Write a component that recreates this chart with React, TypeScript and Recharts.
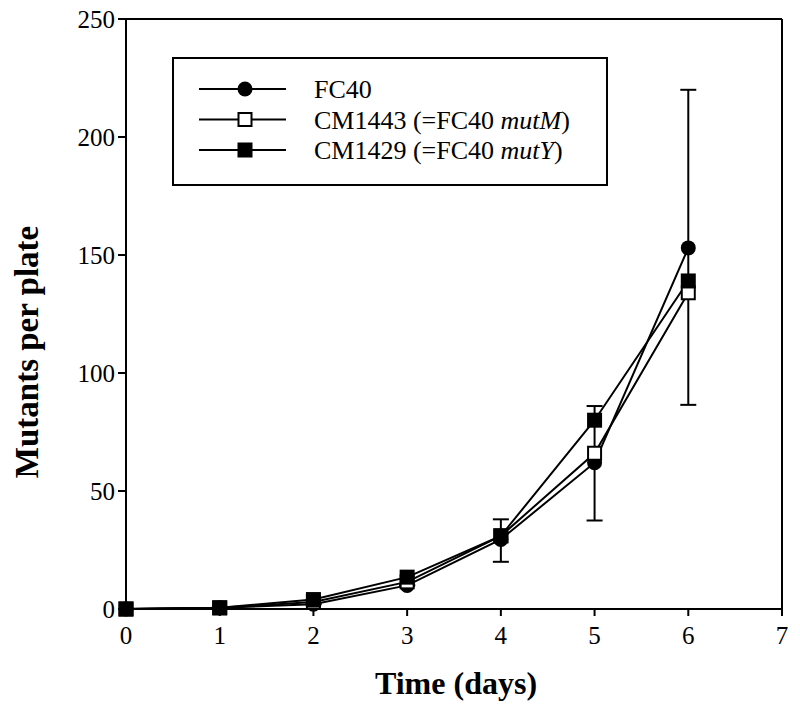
import React from 'react';
import { LineChart, Line, XAxis, YAxis, ErrorBar, ReferenceLine } from 'recharts';

const days = [0, 1, 2, 3, 4, 5, 6];
const fc40 = [0, 0.5, 2, 10, 29.5, 62, 153];
const cm1443 = [0, 0.5, 3, 11.5, 31, 66, 134];
const cm1429 = [0, 0.5, 4, 13.5, 31, 80, 139];
const fc40ErrLow = [0, 0, 0, 0, 9.5, 24.5, 66.5];
const fc40ErrHigh = [0, 0, 0, 0, 8.5, 24, 67];
const xTicks = [0, 1, 2, 3, 4, 5, 6, 7];
const yTicks = [0, 50, 100, 150, 200, 250];
const legendLabels = [
  { main: 'FC40', ital: '', tail: '' },
  { main: 'CM1443 (=FC40 ', ital: 'mutM', tail: ')' },
  { main: 'CM1429 (=FC40 ', ital: 'mutY', tail: ')' },
];

const data = days.map((d, i) => ({
  day: d,
  fc40: fc40[i],
  cm1443: cm1443[i],
  cm1429: cm1429[i],
  fc40Err: [fc40ErrLow[i], fc40ErrHigh[i]],
}));

const FONT = '"Liberation Serif", "Times New Roman", serif';

const Circle = (props: any) => {
  const { cx, cy, index } = props;
  if (cx == null || cy == null) return <g key={`c${index}`} />;
  return <circle key={`c${index}`} cx={cx} cy={cy} r={7.5} fill="#000" />;
};
const OpenSquare = (props: any) => {
  const { cx, cy, index } = props;
  if (cx == null || cy == null) return <g key={`o${index}`} />;
  return <rect key={`o${index}`} x={cx - 6.5} y={cy - 6.5} width={13} height={13} fill="#fff" stroke="#000" strokeWidth={2} />;
};
const FilledSquare = (props: any) => {
  const { cx, cy, index } = props;
  if (cx == null || cy == null) return <g key={`f${index}`} />;
  return <rect key={`f${index}`} x={cx - 7.5} y={cy - 7.5} width={15} height={15} fill="#000" />;
};

const markerFor = (i: number, cx: number, cy: number) => {
  if (i === 0) return <circle cx={cx} cy={cy} r={7.5} fill="#000" />;
  if (i === 1) return <rect x={cx - 6.5} y={cy - 6.5} width={13} height={13} fill="#fff" stroke="#000" strokeWidth={2} />;
  return <rect x={cx - 7.5} y={cy - 7.5} width={15} height={15} fill="#000" />;
};

const LegendBox = () => (
  <svg width={436} height={129} style={{ display: 'block' }}>
    <rect x={1} y={1} width={434} height={127} fill="#fff" stroke="#000" strokeWidth={2} />
    {legendLabels.map((l, i) => {
      const y = 32 + i * 30.5;
      return (
        <g key={i}>
          <line x1={27} x2={114} y1={y} y2={y} stroke="#000" strokeWidth={2} />
          {markerFor(i, 73, y)}
          <text x={142} y={y + 9} fontFamily={FONT} fontSize={26} fill="#000">
            {l.main}
            {l.ital ? <tspan fontStyle="italic">{l.ital}</tspan> : null}
            {l.tail}
          </text>
        </g>
      );
    })}
  </svg>
);

const XLabel = (props: any) => {
  const vb = props.viewBox || { x: 126, y: 609, width: 656, height: 107 };
  return (
    <text x={vb.x + vb.width / 2 + 2} y={vb.y + 85} textAnchor="middle" fontFamily={FONT} fontWeight="bold" fontSize={32} fill="#000">
      Time (days)
    </text>
  );
};

const YLabel = (props: any) => {
  const vb = props.viewBox || { x: 0, y: 19, width: 126, height: 590 };
  const x = vb.x + 38;
  const y = vb.y + vb.height / 2 + 38;
  return (
    <text x={x} y={y} transform={`rotate(-90, ${x}, ${y})`} textAnchor="middle" fontFamily={FONT} fontWeight="bold" fontSize={33} fill="#000">
      Mutants per plate
    </text>
  );
};

export default function App() {
  return (
    <div style={{ position: 'absolute', left: 0, top: 0, width: 800, height: 716, background: '#fff' }}>
      <LineChart width={800} height={716} data={data} margin={{ top: 19, right: 18, bottom: 0, left: 0 }}>
        <XAxis
          dataKey="day"
          type="number"
          domain={[0, 7]}
          ticks={xTicks}
          interval={0}
          height={107}
          tickSize={7}
          tickMargin={10}
          axisLine={{ stroke: '#000', strokeWidth: 2 }}
          tickLine={{ stroke: '#000', strokeWidth: 2 }}
          tick={{ fill: '#000', fontSize: 25, fontFamily: FONT }}
          label={<XLabel />}
        />
        <YAxis
          type="number"
          domain={[0, 250]}
          ticks={yTicks}
          interval={0}
          width={126}
          tickSize={8}
          tickMargin={3}
          axisLine={{ stroke: '#000', strokeWidth: 2 }}
          tickLine={{ stroke: '#000', strokeWidth: 2 }}
          tick={{ fill: '#000', fontSize: 25, fontFamily: FONT }}
          label={<YLabel />}
        />
        <ReferenceLine y={250} stroke="#000" strokeWidth={2} />
        <ReferenceLine x={7} stroke="#000" strokeWidth={2} />
        <Line dataKey="fc40" name="FC40" stroke="#000" strokeWidth={2} isAnimationActive={false} dot={<Circle />} activeDot={false}>
          <ErrorBar dataKey="fc40Err" width={8} stroke="#000" strokeWidth={2} direction="y" isAnimationActive={false} />
        </Line>
        <Line dataKey="cm1443" name="CM1443" stroke="#000" strokeWidth={2} isAnimationActive={false} dot={<OpenSquare />} activeDot={false} />
        <Line dataKey="cm1429" name="CM1429" stroke="#000" strokeWidth={2} isAnimationActive={false} dot={<FilledSquare />} activeDot={false} />
      </LineChart>
      <div style={{ position: 'absolute', left: 172, top: 57 }}>
        <LegendBox />
      </div>
    </div>
  );
}
